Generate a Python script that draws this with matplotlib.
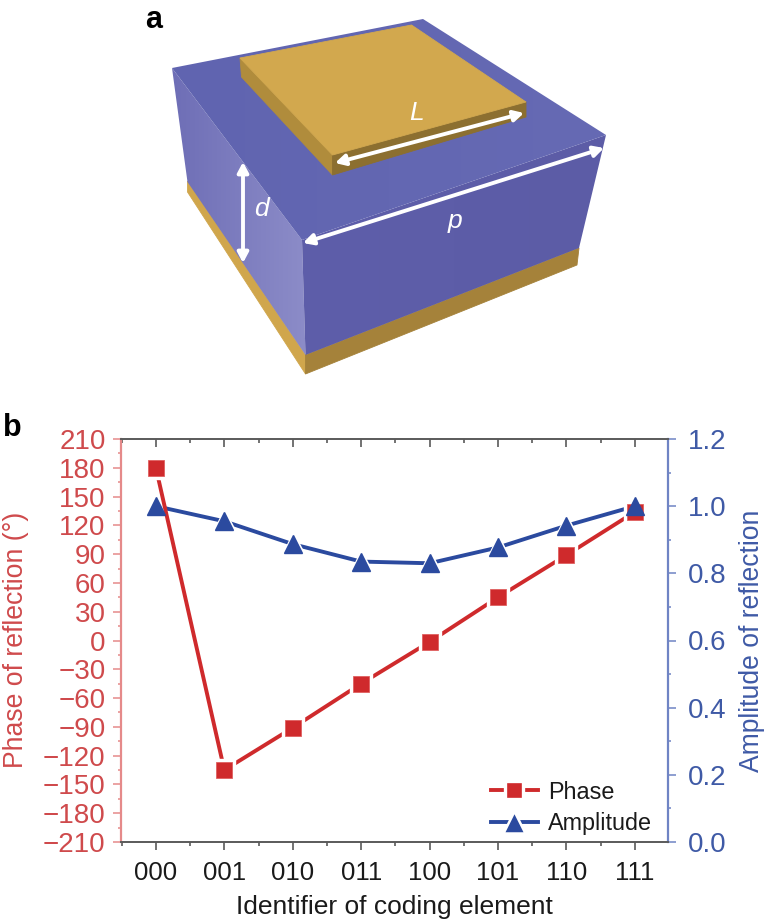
import numpy as np
import matplotlib
matplotlib.use("Agg")
import matplotlib.pyplot as plt
from matplotlib.patches import Polygon
from matplotlib.lines import Line2D
from matplotlib.ticker import MultipleLocator

plt.rcParams['font.family'] = ['Liberation Sans', 'DejaVu Sans']

# ---- data ----
codes = ['000', '001', '010', '011', '100', '101', '110', '111']
phase = [180, -135, -91, -45, -1.5, 45, 89, 134]
amplitude = [1.0, 0.955, 0.887, 0.835, 0.83, 0.877, 0.942, 1.0]
phase_ticks = list(range(-210, 211, 30))
amp_ticks = [0.0, 0.2, 0.4, 0.6, 0.8, 1.0, 1.2]

RED = '#cf2a2c'
BLUE = '#2b4a9f'
RED_T = '#cf4a4c'
BLUE_T = '#3f5aa6'
W, H = 766, 922

fig = plt.figure(figsize=(W / 100, H / 100), dpi=100, facecolor='white')

# ---- panel a: illustration, in pixel coordinates ----
ov = fig.add_axes([0, 0, 1, 1], facecolor='none')
ov.set_axis_off()


def poly(pts, color, z=2):
    p = Polygon(pts, closed=True, facecolor=color, edgecolor=color, lw=0.6, zorder=z)
    ov.add_patch(p)
    return p


def grad(pts, c_left, c_right, z=2):
    p = Polygon(pts, closed=True, facecolor='none', edgecolor='none', zorder=z)
    ov.add_patch(p)
    c0, c1 = np.array(matplotlib.colors.to_rgb(c_left)), np.array(matplotlib.colors.to_rgb(c_right))
    t = np.linspace(0, 1, 128)
    row = c0[None, :] * (1 - t[:, None]) + c1[None, :] * t[:, None]
    img = row[None, :, :]
    xs = [q[0] for q in pts]
    ys = [q[1] for q in pts]
    im = ov.imshow(img, extent=[min(xs), max(xs), max(ys), min(ys)], aspect='auto', zorder=z,
                   interpolation='bilinear')
    im.set_clip_path(p)


# bottom gold layer
poly([(187.5, 181), (305.5, 355), (305.5, 374), (187.5, 192)], '#d0a64c', 2)
poly([(305.5, 355), (579, 248), (577, 265), (305.5, 374)], '#a5823a', 2)
# blue faces
grad([(172, 68), (302, 240), (305.5, 355), (187.5, 182)], '#6e6eb6', '#8c8cc8', 3)
grad([(302, 240), (606, 135), (579, 248), (305.5, 355)], '#5e5eaa', '#5c5ca6', 3)
grad([(172, 68), (423, 19), (606, 135), (302, 240)], '#6064b0', '#666ab4', 3)
# gold patch
poly([(240, 58), (332.5, 155), (332.5, 175), (241.5, 77)], '#b08c3c', 4)
poly([(332.5, 155), (526, 102), (526, 117), (332.5, 175)], '#8c6f30', 4)
poly([(240, 58), (411.5, 25), (526, 102), (332.5, 155)], '#d2a84e', 4)

for a, b in [((335, 163), (524, 113)), ((303, 243), (604, 148)), ((243, 162), (243, 263))]:
    ov.annotate('', xy=a, xytext=b, zorder=6,
                arrowprops=dict(arrowstyle='<|-|>,head_length=0.6,head_width=0.32',
                                color='white', lw=2.8, shrinkA=0, shrinkB=0))
ov.text(417, 113, 'L', color='white', style='italic', fontsize=19, ha='center', va='center', zorder=7)
ov.text(261, 209, 'd', color='white', style='italic', fontsize=19, ha='center', va='center', zorder=7)
ov.text(455, 221, 'p', color='white', style='italic', fontsize=19, ha='center', va='center', zorder=7)
ov.text(154, 20, 'a', color='black', weight='bold', fontsize=22, ha='center', va='center', zorder=7)
ov.text(12, 428, 'b', color='black', weight='bold', fontsize=22, ha='center', va='center', zorder=7)
ov.set_xlim(0, W)
ov.set_ylim(H, 0)

# ---- panel b ----
L, R, T, B = 121, 668, 439, 842
ax = fig.add_axes([L / W, 1 - B / H, (R - L) / W, (B - T) / H], facecolor='none')
ax2 = ax.twinx()
x = np.arange(len(codes))

ax.set_xlim(-0.51, 7.485)
ax.set_ylim(-210, 210)
ax2.set_ylim(0, 1.2)

# line and white halo order keeps the small gaps next to the markers
ax.set_zorder(2)
ax2.set_zorder(1)
ax2.plot(x, amplitude, color=BLUE, lw=2.8, zorder=2)
ax2.plot(x, amplitude, ls='', marker='^', ms=18, mfc='white', mec='white', zorder=3)
ax.plot(x, phase, color=RED, lw=2.8, zorder=2)
ax.plot(x, phase, ls='', marker='s', ms=16, mfc='white', mec='white', zorder=3)
ax.plot(x, phase, ls='', marker='s', ms=11, mfc=RED, mec='#e06060', mew=0.6, zorder=4)
# triangles stay on top of the squares
ax3 = ax2.figure.add_axes(ax.get_position(), facecolor='none', sharex=ax, zorder=3)
ax3.set_ylim(0, 1.2)
ax3.set_axis_off()
ax3.plot(x, amplitude, ls='', marker='^', ms=13.5, mfc=BLUE, mec=BLUE, zorder=4)

ax.set_xticks(x)
ax.set_xticklabels(codes)
ax.xaxis.set_minor_locator(MultipleLocator(0.5))
ax.set_yticks(phase_ticks)
ax.set_yticklabels([str(v).replace('-', '\u2212') for v in phase_ticks])
ax.yaxis.set_minor_locator(MultipleLocator(15))
ax2.set_yticks(amp_ticks)
ax2.set_yticklabels([f'{v:.1f}' for v in amp_ticks])
ax2.yaxis.set_minor_locator(MultipleLocator(0.1))

GREY = '#5a5a5a'
ax.spines['top'].set(color=GREY, lw=1.4)
ax.spines['bottom'].set(color=GREY, lw=1.4)
ax.spines['left'].set(color='#e58a8a', lw=1.6)
ax.spines['right'].set_visible(False)
for s in ['top', 'bottom', 'left']:
    ax2.spines[s].set_visible(False)
ax2.spines['right'].set(color='#6f84c4', lw=1.6)

ax.tick_params(axis='x', which='major', direction='out', length=6, width=1.2, color=GREY,
               labelsize=18.5, pad=8, labelcolor='#1a1a1a', top=False)
ax.tick_params(axis='x', which='minor', direction='out', length=3, width=1.2, color=GREY, top=False)
ax.tick_params(axis='y', which='major', direction='out', length=6, width=1.1, color='#e58a8a',
               labelsize=20, pad=5, labelcolor=RED_T)
ax.tick_params(axis='y', which='minor', direction='out', length=2.5, width=1.1, color='#e58a8a')
ax2.tick_params(axis='y', which='major', direction='out', length=6, width=1.1, color='#6f84c4',
                labelsize=20, pad=8, labelcolor=BLUE_T)
ax2.tick_params(axis='y', which='minor', direction='out', length=2.5, width=1.1, color='#6f84c4')

# top ticks point inwards
secx = ax.secondary_xaxis('top')
secx.set_xticks(x)
secx.xaxis.set_minor_locator(MultipleLocator(0.5))
secx.set_xticklabels([])
secx.tick_params(axis='x', which='major', direction='in', length=6, width=1.2, color=GREY)
secx.tick_params(axis='x', which='minor', direction='in', length=3, width=1.2, color=GREY)
secx.spines['top'].set_visible(False)

ax.set_xlabel('Identifier of coding element', fontsize=19, color='#1a1a1a')
ax.xaxis.set_label_coords(0.5, -(907 - B) / (B - T), transform=ax.transAxes)
ax.xaxis.label.set_va('center')
ax.set_ylabel('Phase of reflection (\u00b0)', fontsize=19.2, color=RED_T)
ax.yaxis.set_label_coords((16 - L) / (R - L), (B - 640) / (B - T), transform=ax.transAxes)
ax.yaxis.label.set_va('center')
ax2.set_ylabel('Amplitude of reflection', fontsize=19.1, color=BLUE_T, rotation=90)
ax2.yaxis.set_label_coords((752 - L) / (R - L), (B - 641) / (B - T), transform=ax.transAxes)
ax2.yaxis.label.set_va('center')

h = [Line2D([], [], color=RED, lw=2.8, marker='s', ms=13, mfc=RED, mec='white', mew=2.4),
     Line2D([], [], color=BLUE, lw=2.8, marker='^', ms=16, mfc=BLUE, mec='white', mew=1.8)]
leg = ax.legend(h, ['Phase', 'Amplitude'], loc='lower left',
                bbox_to_anchor=((491 - L) / (R - L), (B - 835) / (B - T)),
                frameon=False, fontsize=16.8, handlelength=2.0, handletextpad=0.45,
                labelspacing=0.36, borderpad=0, borderaxespad=0, labelcolor='#1a1a1a')

fig.savefig('out.png', dpi=100)
